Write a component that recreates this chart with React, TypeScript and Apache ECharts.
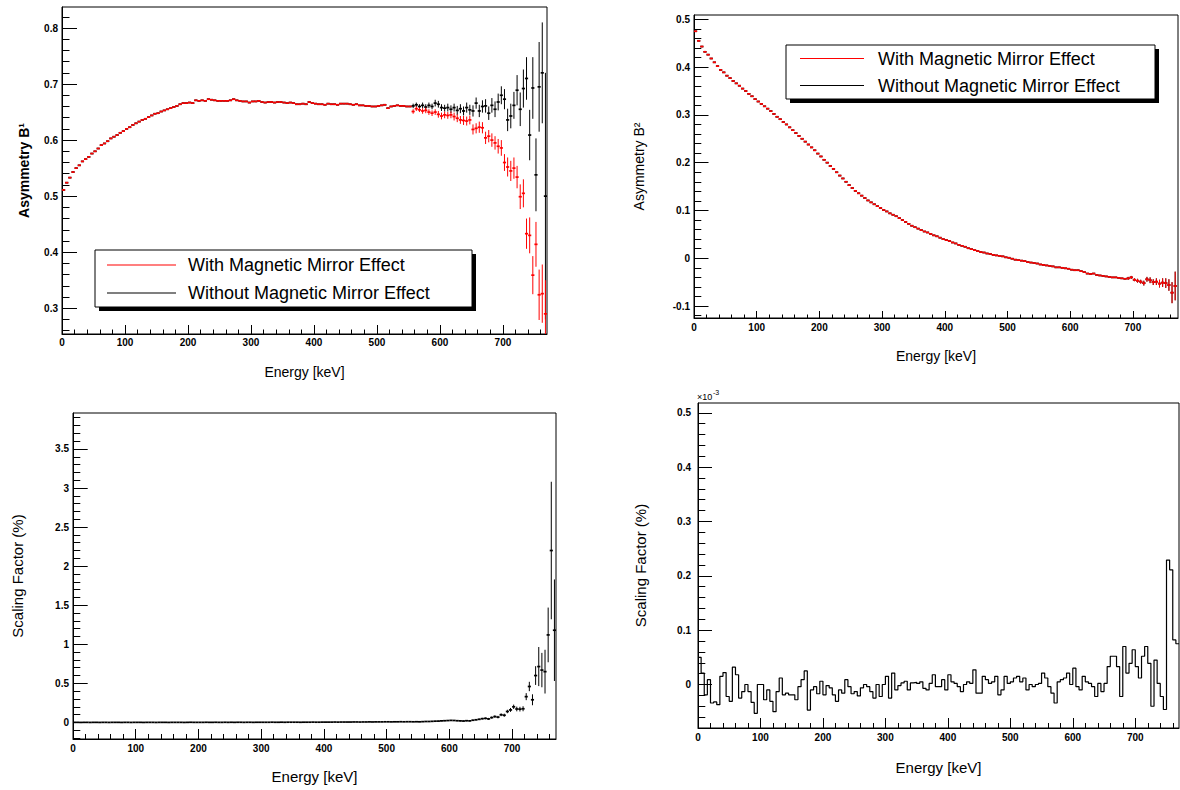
import React, { useEffect, useRef } from "react";
import * as echarts from "echarts";

const BIN_WIDTH = 5; // keV per bin
const FONT = '"Liberation Sans", Arial, Helvetica, sans-serif';

// ---- tick labels ----
const energyTicks = [0, 100, 200, 300, 400, 500, 600, 700];
const b1Ticks = [0.3, 0.4, 0.5, 0.6, 0.7, 0.8];
const b2Ticks = [-0.1, 0, 0.1, 0.2, 0.3, 0.4, 0.5];
const scaleTicks = [0, 0.5, 1, 1.5, 2, 2.5, 3, 3.5];
const scaleMilliTicks = [0, 0.1, 0.2, 0.3, 0.4, 0.5];

const legendLabels = ["With Magnetic Mirror Effect", "Without Magnetic Mirror Effect"];

// ---- Asymmetry B1: both curves coincide below ~555 keV ----
const b1Shared = [
  0.511, 0.524, 0.533, 0.543, 0.550, 0.555, 0.562, 0.566, 0.570, 0.576,
  0.580, 0.585, 0.591, 0.594, 0.598, 0.603, 0.606, 0.609, 0.613, 0.616,
  0.620, 0.623, 0.627, 0.630, 0.633, 0.636, 0.638, 0.641, 0.644, 0.647,
  0.648, 0.651, 0.653, 0.655, 0.657, 0.659, 0.661, 0.664, 0.666, 0.666,
  0.667, 0.666, 0.671, 0.670, 0.671, 0.670, 0.673, 0.672, 0.671, 0.670,
  0.670, 0.670, 0.670, 0.671, 0.673, 0.671, 0.670, 0.669, 0.669, 0.667,
  0.669, 0.669, 0.670, 0.668, 0.667, 0.668, 0.668, 0.667, 0.668, 0.668,
  0.667, 0.666, 0.667, 0.666, 0.664, 0.664, 0.665, 0.664, 0.668, 0.666,
  0.665, 0.664, 0.664, 0.663, 0.665, 0.664, 0.664, 0.663, 0.665, 0.665,
  0.665, 0.664, 0.663, 0.664, 0.662, 0.662, 0.661, 0.661, 0.660, 0.660,
  0.661, 0.662, 0.663, 0.657, 0.660, 0.661, 0.662, 0.661, 0.661, 0.660,
  0.660,
];
const b1WithTail = [
  0.651, 0.656, 0.654, 0.652, 0.653, 0.650, 0.648, 0.650, 0.646, 0.643,
  0.645, 0.644, 0.645, 0.642, 0.639, 0.636, 0.635, 0.634, 0.636, 0.619,
  0.621, 0.623, 0.622, 0.604, 0.607, 0.600, 0.595, 0.589, 0.586, 0.560,
  0.552, 0.545, 0.550, 0.534, 0.499, 0.505, 0.433, 0.430, 0.359, 0.414,
  0.324, 0.326, 0.290,
];
const b1WithTailErr = [
  0.004, 0.004, 0.004, 0.005, 0.005, 0.005, 0.005, 0.005, 0.006, 0.006,
  0.006, 0.006, 0.006, 0.007, 0.007, 0.007, 0.008, 0.008, 0.008, 0.009,
  0.009, 0.010, 0.010, 0.011, 0.011, 0.012, 0.012, 0.013, 0.014, 0.015,
  0.017, 0.018, 0.019, 0.020, 0.022, 0.025, 0.027, 0.032, 0.034, 0.040,
  0.045, 0.052, 0.060,
];
const b1WithoutTail = [
  0.661, 0.663, 0.660, 0.662, 0.659, 0.662, 0.660, 0.666, 0.664, 0.658,
  0.657, 0.658, 0.655, 0.658, 0.653, 0.656, 0.652, 0.658, 0.654, 0.652,
  0.666, 0.652, 0.660, 0.661, 0.648, 0.662, 0.655, 0.668, 0.680, 0.673,
  0.636, 0.643, 0.662, 0.689, 0.655, 0.692, 0.710, 0.609, 0.693, 0.538,
  0.695, 0.720, 0.500,
];
const b1WithoutTailErr = [
  0.004, 0.004, 0.004, 0.005, 0.005, 0.005, 0.005, 0.006, 0.006, 0.006,
  0.006, 0.007, 0.007, 0.007, 0.008, 0.008, 0.008, 0.009, 0.009, 0.010,
  0.010, 0.011, 0.011, 0.012, 0.012, 0.013, 0.014, 0.015, 0.016, 0.018,
  0.020, 0.022, 0.024, 0.027, 0.030, 0.034, 0.038, 0.045, 0.055, 0.065,
  0.080, 0.090, 0.220,
];

// ---- Asymmetry B2 (both curves coincide) ----
const b2Values = [
  0.475, 0.455, 0.443, 0.432, 0.426, 0.418, 0.410, 0.402, 0.394, 0.389,
  0.382, 0.377, 0.371, 0.366, 0.361, 0.355, 0.350, 0.344, 0.339, 0.333,
  0.328, 0.323, 0.318, 0.313, 0.308, 0.302, 0.296, 0.291, 0.285, 0.280,
  0.274, 0.268, 0.262, 0.256, 0.250, 0.244, 0.238, 0.232, 0.226, 0.219,
  0.213, 0.206, 0.200, 0.193, 0.187, 0.180, 0.173, 0.167, 0.160, 0.153,
  0.147, 0.141, 0.136, 0.131, 0.126, 0.121, 0.117, 0.113, 0.109, 0.105,
  0.101, 0.098, 0.094, 0.091, 0.088, 0.084, 0.080, 0.076, 0.072, 0.068,
  0.065, 0.062, 0.059, 0.056, 0.054, 0.051, 0.048, 0.046, 0.043, 0.040,
  0.038, 0.036, 0.033, 0.031, 0.028, 0.026, 0.024, 0.021, 0.019, 0.017,
  0.015, 0.013, 0.012, 0.010, 0.009, 0.007, 0.006, 0.005, 0.004, 0.002,
  0.001, -0.001, -0.003, -0.004, -0.005, -0.006, -0.008, -0.009, -0.010, -0.011,
  -0.013, -0.014, -0.015, -0.016, -0.017, -0.019, -0.019, -0.020, -0.021, -0.022,
  -0.024, -0.025, -0.025, -0.027, -0.029, -0.032, -0.033, -0.032, -0.035, -0.036,
  -0.037, -0.038, -0.039, -0.040, -0.040, -0.041, -0.042, -0.043, -0.042, -0.040,
  -0.045, -0.047, -0.049, -0.052, -0.044, -0.046, -0.050, -0.049, -0.053, -0.051,
  -0.052, -0.056, -0.072, -0.058,
];
const b2TailErr = [
  0.003, 0.003, 0.003, 0.004, 0.004, 0.005, 0.005, 0.006, 0.006, 0.007,
  0.008, 0.009, 0.010, 0.012, 0.022, 0.030,
];

// ---- Scaling factor (%) ----
const scaleValues = [
  0.001, 0.001, 0.000, 0.001, 0.001, 0.000, 0.001, 0.001, 0.000, 0.001,
  0.001, 0.000, 0.001, 0.001, 0.001, 0.000, 0.001, 0.001, 0.000, 0.001,
  0.001, 0.001, 0.000, 0.001, 0.001, 0.001, 0.000, 0.001, 0.001, 0.001,
  0.000, 0.001, 0.001, 0.001, 0.001, 0.000, 0.001, 0.002, 0.001, 0.001,
  0.001, 0.001, 0.002, 0.001, 0.001, 0.002, 0.001, 0.001, 0.002, 0.001,
  0.002, 0.001, 0.002, 0.002, 0.001, 0.002, 0.002, 0.001, 0.002, 0.002,
  0.002, 0.002, 0.002, 0.003, 0.002, 0.002, 0.003, 0.002, 0.003, 0.003,
  0.003, 0.003, 0.002, 0.003, 0.003, 0.003, 0.004, 0.003, 0.003, 0.004,
  0.004, 0.004, 0.004, 0.005, 0.004, 0.005, 0.005, 0.005, 0.005, 0.006,
  0.006, 0.005, 0.006, 0.006, 0.007, 0.006, 0.007, 0.007, 0.007, 0.008,
  0.008, 0.007, 0.008, 0.008, 0.009, 0.008, 0.009, 0.009, 0.008, 0.009,
  0.008, 0.010, 0.012, 0.012, 0.014, 0.016, 0.017, 0.020, 0.022, 0.024,
  0.026, 0.025, 0.022, 0.020, 0.018, 0.022, 0.020, 0.028, 0.034, 0.040,
  0.048, 0.052, 0.045, 0.062, 0.075, 0.068, 0.098, 0.092, 0.140, 0.160,
  0.200, 0.172, 0.170, 0.175, 0.330, 0.460, 0.290, 0.600, 0.715, 0.670,
  0.650, 1.120, 2.200, 1.180,
];
const scaleTailErr = [
  0.004, 0.004, 0.004, 0.004, 0.005, 0.005, 0.005, 0.005, 0.006, 0.006,
  0.006, 0.006, 0.007, 0.007, 0.007, 0.008, 0.008, 0.009, 0.010, 0.010,
  0.011, 0.012, 0.013, 0.014, 0.015, 0.016, 0.018, 0.020, 0.022, 0.025,
  0.028, 0.030, 0.030, 0.032, 0.045, 0.060, 0.070, 0.120, 0.250, 0.220,
  0.280, 0.350, 0.880, 0.650,
];

// ---- Scaling factor (%) difference, in units of 1e-3 ----
const scaleMilliValues = [
  0.050, 0.021, -0.019, 0.009, -0.034, -0.032, -0.037, 0.015, 0.022, -0.022,
  -0.031, 0.032, 0.018, -0.025, -0.013, 0.000, -0.013, -0.033, -0.053, 0.000,
  0.000, -0.028, -0.010, -0.031, -0.050, -0.013, 0.012, -0.019, -0.016, -0.019,
  -0.019, -0.028, -0.004, 0.009, 0.025, -0.047, -0.010, -0.004, -0.017, 0.006,
  -0.019, -0.002, -0.006, -0.019, -0.031, -0.010, -0.016, 0.009, -0.004, -0.017,
  -0.013, -0.021, -0.006, 0.000, -0.004, -0.013, -0.025, 0.000, -0.022, 0.000,
  0.015, -0.025, 0.021, -0.010, -0.002, 0.003, 0.006, -0.010, 0.003, 0.004,
  0.002, 0.005, -0.007, -0.010, 0.002, 0.018, -0.004, -0.004, 0.009, -0.010,
  0.018, 0.005, 0.002, -0.004, -0.013, 0.000, 0.005, 0.002, 0.027, -0.016,
  -0.016, 0.015, 0.009, 0.002, 0.005, 0.015, -0.019, -0.010, 0.015, 0.002,
  0.005, 0.012, 0.015, 0.005, 0.012, -0.010, 0.000, -0.004, 0.000, 0.002,
  0.021, 0.012, -0.004, -0.016, -0.034, 0.005, 0.009, 0.012, 0.021, 0.000,
  0.030, -0.004, -0.010, 0.015, 0.005, 0.002, -0.004, -0.022, 0.002, -0.013,
  0.002, 0.033, 0.052, 0.052, 0.033, -0.022, 0.070, 0.021, 0.039, 0.064,
  0.033, 0.012, 0.052, 0.070, 0.039, -0.040, 0.045, 0.002, -0.022, -0.046,
  0.229, 0.211, 0.082, 0.075,
];

// ---------- helpers ----------
const binCenter = (i: number) => BIN_WIDTH * (i + 0.5);

function tailErr(i: number, total: number, tail: number[]) {
  const start = total - tail.length;
  return i >= start ? tail[i - start] : 0;
}

function minorTicks(lo: number, hi: number, step: number, majors: number[]) {
  const out: number[] = [];
  const k0 = Math.ceil(lo / step - 1e-9);
  const k1 = Math.floor(hi / step + 1e-9);
  for (let k = k0; k <= k1; k++) {
    const v = +(k * step).toFixed(6);
    if (!majors.some((m) => Math.abs(m - v) < 1e-9)) out.push(v);
  }
  return out;
}

const fmt = (v: number) => String(Math.round(v * 1000) / 1000);

function errorBarSeries(p: number, data: number[][], color: string, z: number) {
  return {
    type: "custom",
    xAxisIndex: 2 * p,
    yAxisIndex: 2 * p,
    clip: true,
    silent: true,
    z,
    data,
    encode: { x: 0, y: 1 },
    renderItem: (_params: any, api: any) => {
      const x = api.value(0);
      const y = api.value(1);
      const e = api.value(2);
      const c = api.coord([x, y]);
      const w = api.size([BIN_WIDTH, 0])[0];
      const children: any[] = [
        {
          type: "line",
          shape: { x1: c[0] - w / 2, y1: c[1], x2: c[0] + w / 2, y2: c[1] },
          style: { stroke: color, lineWidth: 1.7 },
        },
      ];
      if (e > 0) {
        const hi = api.coord([x, y + e]);
        const lo = api.coord([x, y - e]);
        children.push({
          type: "line",
          shape: { x1: c[0], y1: hi[1], x2: c[0], y2: lo[1] },
          style: { stroke: color, lineWidth: 1 },
        });
      }
      return { type: "group", children };
    },
  };
}

function buildOption() {
  const panels = [
    {
      grid: { left: 62, top: 7, width: 485, height: 327 },
      xMax: 770, yMin: 0.254, yMax: 0.8375, yMajor: b1Ticks, yStep: 0.02,
      yName: "Asymmetry B¹", yBold: true, yNameSize: 14, yNameGap: 31,
      xNameSize: 14, xNameGap: 31, yTick: 15, yMinor: 7.5, xTick: 9, xMinor: 4.5,
      xLabelMargin: 3, yLabelMargin: 4,
    },
    {
      grid: { left: 694, top: 15, width: 484, height: 303 },
      xMax: 772, yMin: -0.125, yMax: 0.509, yMajor: b2Ticks, yStep: 0.02,
      yName: "Asymmetry B²", yBold: false, yNameSize: 14, yNameGap: 48,
      xNameSize: 14, xNameGap: 31, yTick: 14.5, yMinor: 7.3, xTick: 7, xMinor: 3.5,
      xLabelMargin: 4, yLabelMargin: 4,
    },
    {
      grid: { left: 73, top: 413, width: 483, height: 326 },
      xMax: 770, yMin: -0.212, yMax: 3.96, yMajor: scaleTicks, yStep: 0.1,
      yName: "Scaling Factor (%)", yBold: false, yNameSize: 15, yNameGap: 48,
      xNameSize: 15, xNameGap: 30, yTick: 14.7, yMinor: 7.3, xTick: 10, xMinor: 5,
      xLabelMargin: 4, yLabelMargin: 4,
    },
    {
      grid: { left: 698, top: 403, width: 481, height: 325 },
      xMax: 770, yMin: -0.08, yMax: 0.518, yMajor: scaleMilliTicks, yStep: 0.02,
      yName: "Scaling Factor (%)", yBold: false, yNameSize: 15, yNameGap: 50,
      xNameSize: 15, xNameGap: 32, yTick: 14, yMinor: 7.3, xTick: 10, xMinor: 5,
      xLabelMargin: 4, yLabelMargin: 7,
    },
  ];

  const grid: any[] = [];
  const xAxis: any[] = [];
  const yAxis: any[] = [];
  const black = "#000000";

  panels.forEach((pn, p) => {
    grid.push({
      ...pn.grid,
      show: true,
      borderColor: black,
      borderWidth: 1,
      backgroundColor: "rgba(0,0,0,0)",
      containLabel: false,
      outerBoundsMode: "none",
    });
    const xMinorVals = minorTicks(0, pn.xMax, 20, energyTicks);
    xAxis.push({
      type: "value",
      gridIndex: p,
      position: "bottom",
      min: 0,
      max: pn.xMax,
      name: "Energy [keV]",
      nameLocation: "middle",
      nameGap: pn.xNameGap,
      nameTextStyle: { fontFamily: FONT, fontSize: pn.xNameSize, color: black },
      axisLine: { show: true, onZero: false, lineStyle: { color: black, width: 1 } },
      axisTick: { show: true, inside: true, length: pn.xTick, customValues: energyTicks, lineStyle: { color: black, width: 1 } },
      axisLabel: {
        show: true, customValues: energyTicks, formatter: fmt, margin: pn.xLabelMargin,
        fontFamily: FONT, fontWeight: "bold", fontSize: 10, color: black,
      },
      splitLine: { show: false },
    });
    xAxis.push({
      type: "value",
      gridIndex: p,
      position: "bottom",
      min: 0,
      max: pn.xMax,
      axisLine: { show: false, onZero: false },
      axisTick: { show: true, inside: true, length: pn.xMinor, customValues: xMinorVals, lineStyle: { color: black, width: 1 } },
      axisLabel: { show: false },
      splitLine: { show: false },
    });
    const yMinorVals = minorTicks(pn.yMin, pn.yMax, pn.yStep, pn.yMajor);
    yAxis.push({
      type: "value",
      gridIndex: p,
      position: "left",
      min: pn.yMin,
      max: pn.yMax,
      name: pn.yName,
      nameLocation: "middle",
      nameGap: pn.yNameGap,
      nameTextStyle: {
        fontFamily: FONT, fontSize: pn.yNameSize, color: black,
        fontWeight: pn.yBold ? "bold" : "normal",
      },
      axisLine: { show: true, onZero: false, lineStyle: { color: black, width: 1 } },
      axisTick: { show: true, inside: true, length: pn.yTick, customValues: pn.yMajor, lineStyle: { color: black, width: 1 } },
      axisLabel: {
        show: true, customValues: pn.yMajor, formatter: fmt, margin: pn.yLabelMargin,
        fontFamily: FONT, fontWeight: "bold", fontSize: 10, color: black,
      },
      splitLine: { show: false },
    });
    yAxis.push({
      type: "value",
      gridIndex: p,
      position: "left",
      min: pn.yMin,
      max: pn.yMax,
      axisLine: { show: false, onZero: false },
      axisTick: { show: true, inside: true, length: pn.yMinor, customValues: yMinorVals, lineStyle: { color: black, width: 1 } },
      axisLabel: { show: false },
      splitLine: { show: false },
    });
  });

  // ---- data tables ----
  const b1With = [...b1Shared, ...b1WithTail];
  const b1Without = [...b1Shared, ...b1WithoutTail];
  const withData = b1With.map((v, i) => [binCenter(i), v, tailErr(i, b1With.length, b1WithTailErr)]);
  const withoutData = b1Without.map((v, i) => [binCenter(i), v, tailErr(i, b1Without.length, b1WithoutTailErr)]);
  const b2Data = b2Values.map((v, i) => [binCenter(i), v, tailErr(i, b2Values.length, b2TailErr)]);
  const scaleData = scaleValues.map((v, i) => [binCenter(i), v, tailErr(i, scaleValues.length, scaleTailErr)]);
  const histData = scaleMilliValues.map((v, i) => [i * BIN_WIDTH, v]);
  histData.push([scaleMilliValues.length * BIN_WIDTH, scaleMilliValues[scaleMilliValues.length - 1]]);

  const red = "#ff0000";
  const series: any[] = [
    errorBarSeries(0, withoutData, black, 2),
    errorBarSeries(0, withData, red, 3),
    errorBarSeries(1, b2Data, black, 2),
    errorBarSeries(1, b2Data, red, 3),
    errorBarSeries(2, scaleData, black, 2),
    {
      type: "line",
      xAxisIndex: 6,
      yAxisIndex: 6,
      step: "end",
      data: histData,
      showSymbol: false,
      symbol: "none",
      clip: true,
      silent: true,
      lineStyle: { color: black, width: 1.2 },
    },
  ];

  const legend = (x: number, y: number, w: number, h: number, lineX: number, lineLen: number, textX: number, rowY: number[]) => [
    { type: "rect", z: 20, shape: { x: x + 4, y: y + 4, width: w, height: h }, style: { fill: black } },
    { type: "rect", z: 21, shape: { x, y, width: w, height: h }, style: { fill: "#ffffff", stroke: black, lineWidth: 1 } },
    { type: "line", z: 22, shape: { x1: lineX, y1: rowY[0], x2: lineX + lineLen, y2: rowY[0] }, style: { stroke: red, lineWidth: 1.2 } },
    { type: "line", z: 22, shape: { x1: lineX, y1: rowY[1], x2: lineX + lineLen, y2: rowY[1] }, style: { stroke: black, lineWidth: 1.2 } },
    { type: "text", z: 22, x: textX, y: rowY[0], style: { text: legendLabels[0], fontFamily: FONT, fontSize: 18, fill: black, verticalAlign: "middle" } },
    { type: "text", z: 22, x: textX, y: rowY[1], style: { text: legendLabels[1], fontFamily: FONT, fontSize: 18, fill: black, verticalAlign: "middle" } },
  ];

  const graphic = [
    ...legend(95, 250, 377, 57, 107, 69, 188, [265, 293]),
    ...legend(786, 45, 369, 54, 800, 64, 878, [58.5, 85.5]),
    { type: "text", z: 22, x: 697, y: 397, style: { text: "×10", fontFamily: FONT, fontSize: 9, fill: black, verticalAlign: "middle" } },
    { type: "text", z: 22, x: 713, y: 392, style: { text: "-3", fontFamily: FONT, fontSize: 7, fill: black, verticalAlign: "middle" } },
  ];

  return {
    animation: false,
    backgroundColor: "#ffffff",
    textStyle: { fontFamily: FONT },
    grid,
    xAxis,
    yAxis,
    series,
    graphic,
  };
}

export default function App() {
  const ref = useRef<HTMLDivElement | null>(null);
  useEffect(() => {
    if (!ref.current) return;
    const chart = echarts.init(ref.current, null, { renderer: "svg" });
    chart.setOption(buildOption() as any);
    return () => chart.dispose();
  }, []);
  return (
    <div
      ref={ref}
      style={{ position: "absolute", left: 0, top: 0, width: 1180, height: 790, background: "#fff" }}
    />
  );
}
